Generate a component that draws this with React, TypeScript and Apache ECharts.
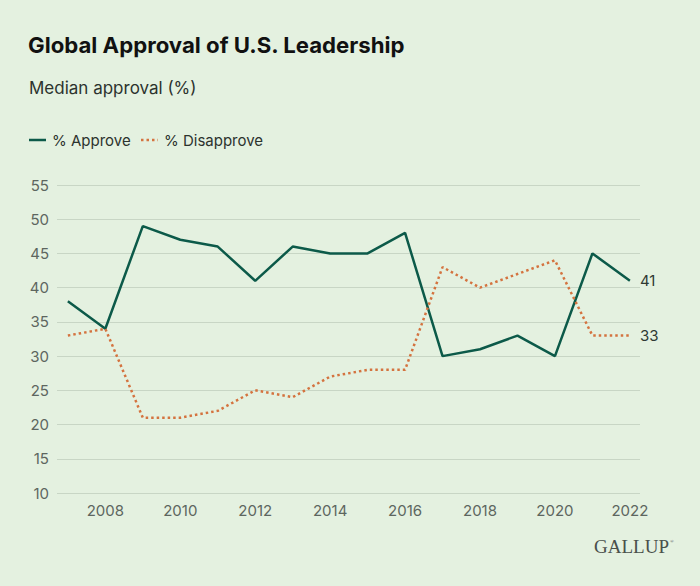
import React, { useEffect, useRef } from "react";
import * as echarts from "echarts";

const years = [2007, 2008, 2009, 2010, 2011, 2012, 2013, 2014, 2015, 2016, 2017, 2018, 2019, 2020, 2021, 2022];
const approve = [38, 34, 49, 47, 46, 41, 46, 45, 45, 48, 30, 31, 33, 30, 45, 41];
const disapprove = [33, 34, 21, 21, 22, 25, 24, 27, 28, 28, 43, 40, 42, 44, 33, 33];
const xTickLabels = [2008, 2010, 2012, 2014, 2016, 2018, 2020, 2022];
const seriesNames = ["% Approve", "% Disapprove"];

const BG = "#e4f1e0";
const GREEN = "#0c5a49";
const ORANGE = "#d4733f";
const FONT = "Inter";
const DOTS = [2.5, 3];

export default function App() {
  const ref = useRef<HTMLDivElement>(null);
  useEffect(() => {
    document.body.style.margin = "0";
    if (!ref.current) return;
    const chart = echarts.init(ref.current, null, { renderer: "svg" });
    const endLabel = {
      show: true,
      distance: 10,
      color: "#2f3a33",
      fontFamily: FONT,
      fontSize: 15,
      formatter: (p: any) => String(p.value[1]),
    };
    const legendText = { fontFamily: FONT, fontSize: 15, fill: "#2c332e" };
    chart.setOption({
      animation: false,
      backgroundColor: BG,
      textStyle: { fontFamily: FONT },
      title: [
        {
          text: "Global Approval of U.S. Leadership",
          left: 28,
          top: 33,
          padding: 0,
          textStyle: { fontFamily: FONT, fontWeight: 700, fontSize: 22.2, color: "#111" },
        },
        {
          text: "Median approval (%)",
          left: 29,
          top: 79,
          padding: 0,
          textStyle: { fontFamily: FONT, fontWeight: 400, fontSize: 17, color: "#2c332e" },
        },
      ],
      grid: { left: 57, right: 60, top: 185, bottom: 93 },
      xAxis: {
        type: "value",
        min: 2006.71,
        max: 2022.27,
        axisLine: { show: false },
        axisTick: { show: false },
        splitLine: { show: false },
        axisLabel: {
          customValues: xTickLabels,
          color: "#5d665f",
          fontFamily: FONT,
          fontSize: 15,
          margin: 10,
          formatter: (v: number) => String(v),
        },
      },
      yAxis: {
        type: "value",
        min: 10,
        max: 55,
        interval: 5,
        axisLine: { show: false },
        axisTick: { show: false },
        splitLine: { lineStyle: { color: "#c8d6c5", width: 1 } },
        axisLabel: { color: "#5d665f", fontFamily: FONT, fontSize: 15, margin: 8 },
      },
      series: [
        {
          name: seriesNames[0],
          type: "line",
          data: years.map((y, i) => [y, approve[i]]),
          symbol: "none",
          color: GREEN,
          lineStyle: { color: GREEN, width: 2.5 },
          endLabel,
        },
        {
          name: seriesNames[1],
          type: "line",
          data: years.map((y, i) => [y, disapprove[i]]),
          symbol: "none",
          color: ORANGE,
          lineStyle: { color: ORANGE, width: 2.5, type: DOTS },
          endLabel,
        },
      ],
      graphic: [
        {
          type: "line",
          shape: { x1: 29, y1: 140, x2: 46, y2: 140 },
          style: { stroke: GREEN, lineWidth: 2.5 },
        },
        {
          type: "text",
          x: 52,
          y: 140,
          style: { ...legendText, text: seriesNames[0], verticalAlign: "middle" },
        },
        {
          type: "line",
          shape: { x1: 141, y1: 140, x2: 158, y2: 140 },
          style: { stroke: ORANGE, lineWidth: 2.5, lineDash: DOTS },
        },
        {
          type: "text",
          x: 164,
          y: 140,
          style: { ...legendText, text: seriesNames[1], verticalAlign: "middle" },
        },
        {
          type: "text",
          left: 594,
          top: 537,
          style: {
            text: "GALLUP",
            font: "19px 'Liberation Serif'",
            fill: "#4a504b",
          },
        },
        {
          type: "text",
          left: 670,
          top: 539,
          style: { text: "®", font: "5px 'Liberation Serif'", fill: "#4a504b" },
        },
      ],
    });
    return () => chart.dispose();
  }, []);
  return <div ref={ref} style={{ width: 700, height: 586 }} />;
}
